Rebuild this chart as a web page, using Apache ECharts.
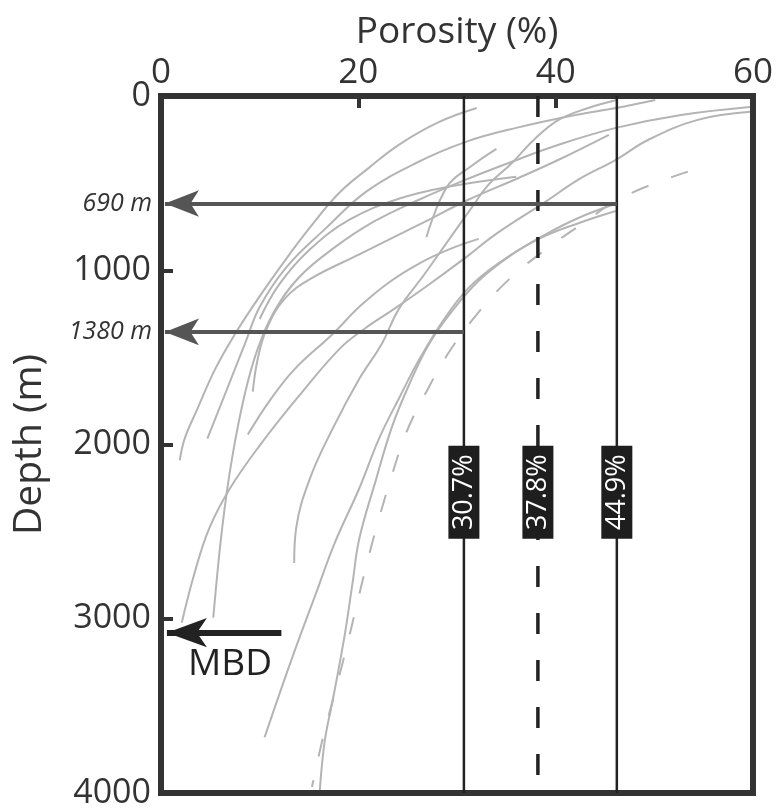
<!DOCTYPE html>
<html>
<head>
<meta charset="utf-8">
<script src="https://cdn.jsdelivr.net/npm/echarts@6/dist/echarts.min.js"></script>
<style>
html,body{margin:0;padding:0;background:#fff;}
#chart{width:776px;height:810px;}
</style>
</head>
<body>
<div id="chart"></div>
<script>
// ---- data (porosity %, depth m) ----
const porosityTicks = [0, 20, 40, 60];
const depthTicks = [0, 1000, 2000, 3000, 4000];

const curve1 = [[32.0,69],[28.2,149],[24.1,280],[21.1,411],[18.1,554],[15.1,754],[12.5,949],[9.8,1166],[7.5,1366],[5.5,1566],[3.7,1794],[2.4,1966],[1.9,2091]];
const curve2 = [[50.1,23],[46.1,69],[42.0,109],[36.0,183],[30.9,263],[25.9,383],[20.8,549],[16.8,754],[12.7,983],[10.0,1211],[8.5,1423],[6.5,1709],[4.7,1966]];
const curve3 = [[59.7,63],[52.7,109],[46.1,183],[40.3,280],[35.3,383],[30.9,480],[26.2,594],[21.6,720],[17.6,869],[14.0,1040],[11.5,1234],[9.8,1451],[8.5,1709],[7.2,2080],[6.2,2480],[5.3,2994]];
const curve4 = [[59.7,91],[54.4,137],[49.4,251],[46.1,366],[42.3,480],[39.0,606],[33.9,794],[30.9,926],[27.2,1080],[23.6,1223],[20.6,1337],[18.1,1451],[14.0,1720],[10.0,2006],[7.0,2251],[4.9,2480],[3.4,2737],[2.1,3023]];
const curve5 = [[46.2,23],[43.3,69],[40.3,137],[37.8,251],[35.6,383],[33.2,509],[31.5,640],[29.2,823],[26.7,1023],[24.1,1223],[22.4,1420],[20.1,1623],[17.4,1909],[15.1,2194],[13.7,2480],[13.5,2680]];
const curve6 = [[45.4,223],[40.3,366],[36.3,469],[31.2,594],[26.2,737],[20.1,909],[15.1,1051],[12.5,1166],[10.7,1337],[9.8,1509],[9.3,1697]];
const curve7 = [[32.2,820],[29.2,880],[26.2,960],[23.1,1070],[20.1,1210],[17.4,1366],[13.5,1570],[11.0,1750],[8.8,1943]];
const curve8 = [[46.0,620],[42.3,700],[38.8,800],[35.3,920],[32.2,1060],[29.7,1220],[27.2,1420],[25.2,1650],[23.4,1900],[21.8,2200],[20.1,2540],[19.4,2800],[18.6,3100],[17.4,3469],[16.6,3700],[16.1,3983]];
const curve9 = [[46.1,660],[42.3,730],[38.3,820],[34.2,960],[31.2,1100],[28.7,1280],[26.2,1509],[24.1,1737],[22.1,1966],[20.1,2251],[17.6,2566],[15.8,2840],[13.3,3223],[10.5,3680]];
const curve10 = [[36.0,463],[29.2,520],[24.1,590],[19.1,710],[15.1,880],[12.0,1080],[10.0,1280]];
const curve11 = [[34.0,303],[31.5,400],[29.0,520],[26.9,811]];
const dashedCurve = [[53.4,434],[46.9,577],[42.6,737],[39.0,880],[35.3,1051],[32.2,1240],[29.2,1469],[26.9,1697],[24.9,1926],[23.4,2177],[22.1,2423],[20.8,2697],[19.7,2954],[18.6,3211],[17.4,3469],[16.3,3709],[15.3,3966]];

const cutoffPorosity = [30.7, 38.2, 46.2];
const cutoffLabels = ['30.7%', '37.8%', '44.9%'];
const cutoffLabelDepth = 2274;

const arrowDepths = [617, 1354];
const arrowLabels = ['690 m', '1380 m'];
const arrowStartPorosity = [46.2, 30.7];
const mbdDepth = 3080;
const mbdStartPorosity = 12.2;
const mbdLabel = 'MBD';
const mbdLabelPos = [7.0, 3265];

// ---- chart ----
const FONT = '"Open Sans", "Noto Sans", sans-serif';
const TEXT = '#333';
const chart = echarts.init(document.getElementById('chart'), null, {renderer: 'canvas'});

const grayCurves = [curve1, curve2, curve3, curve4, curve5, curve6, curve7, curve8, curve9, curve10, curve11];
const series = [];
grayCurves.forEach(function (c) {
  series.push({
    type: 'line', data: c, smooth: 0.4, showSymbol: false, symbol: 'none',
    lineStyle: {color: '#b4b4b4', width: 2}, silent: true, z: 2
  });
});
series.push({
  type: 'line', data: dashedCurve, smooth: 0.4, showSymbol: false, symbol: 'none',
  lineStyle: {color: '#b4b4b4', width: 2, type: [18, 24]}, silent: true, z: 2
});

// vertical cutoff lines
cutoffPorosity.forEach(function (p, i) {
  series.push({
    type: 'line', data: [[p, depthTicks[0]], [p, depthTicks[depthTicks.length - 1]]],
    showSymbol: false, symbol: 'none', silent: true, z: 3,
    lineStyle: i === 1 ? {color: '#222', width: 3.5, type: [21, 26]} : {color: '#222', width: 2.5}
  });
});

// label boxes
series.push({
  type: 'scatter', z: 6, silent: true, clip: false,
  data: cutoffPorosity.map(function (p, i) { return {value: [p, cutoffLabelDepth], name: cutoffLabels[i]}; }),
  symbol: 'rect', symbolSize: [31, 93],
  itemStyle: {color: '#1e1e1e', opacity: 1},
  label: {show: true, position: 'inside', rotate: 90, formatter: '{b}', color: '#ffffff', opacity: 1, fontSize: 27, fontFamily: FONT}
});

// arrows
const arrowLines = arrowDepths.map(function (d, i) {
  return [{coord: [arrowStartPorosity[i], d], symbol: 'none'}, {coord: [0.4, d], symbol: 'arrow', symbolSize: [20, 34]}];
});
arrowLines.push([{coord: [mbdStartPorosity, mbdDepth], symbol: 'none'}, {coord: [0.6, mbdDepth], symbol: 'arrow', symbolSize: [22, 40]}]);
series.push({
  type: 'line', data: [], z: 5, silent: true,
  markLine: {
    silent: true, animation: false,
    label: {show: false},
    data: arrowLines.map(function (l, i) {
      const st = i < 2 ? {color: '#555', width: 4, type: 'solid'} : {color: '#222', width: 6, type: 'solid'};
      l[0].lineStyle = st; l[1].lineStyle = st;
      l[0].itemStyle = {color: st.color}; l[1].itemStyle = {color: st.color};
      return l;
    })
  }
});

// arrow depth labels (left of axis)
series.push({
  type: 'scatter', z: 6, silent: true, clip: false,
  data: arrowDepths.map(function (d, i) { return {value: [0, d], name: arrowLabels[i]}; }),
  symbolSize: 0,
  itemStyle: {opacity: 1},
  label: {show: true, position: 'left', distance: 9, formatter: '{b}', color: TEXT, fontSize: 25, fontStyle: 'italic', fontFamily: FONT}
});
// MBD label
series.push({
  type: 'scatter', z: 6, silent: true, clip: false,
  data: [{value: mbdLabelPos, name: mbdLabel}],
  symbolSize: 0,
  itemStyle: {opacity: 1},
  label: {show: true, position: 'inside', formatter: '{b}', color: '#222', fontSize: 37, fontFamily: FONT}
});

chart.setOption({
  animation: false,
  backgroundColor: '#fff',
  grid: {left: 161, right: 21, top: 96, bottom: 14, show: true, borderColor: '#333', borderWidth: 6, backgroundColor: 'transparent'},
  xAxis: {
    type: 'value', position: 'top',
    min: porosityTicks[0], max: porosityTicks[porosityTicks.length - 1], interval: porosityTicks[1] - porosityTicks[0],
    name: 'Porosity (%)', nameLocation: 'middle', nameGap: 40,
    nameTextStyle: {fontSize: 37, color: TEXT, fontFamily: FONT},
    axisLine: {show: true, lineStyle: {color: '#333', width: 6}},
    axisTick: {show: true, inside: true, length: 12, lineStyle: {color: '#333', width: 4}},
    axisLabel: {fontSize: 35, color: TEXT, fontFamily: FONT, margin: 5, formatter: function (v) { return String(v); }},
    splitLine: {show: false}
  },
  yAxis: {
    type: 'value', inverse: true,
    min: depthTicks[0], max: depthTicks[depthTicks.length - 1], interval: depthTicks[1] - depthTicks[0],
    name: 'Depth (m)', nameLocation: 'middle', nameGap: 112,
    nameTextStyle: {fontSize: 39, color: TEXT, fontFamily: FONT},
    axisLine: {show: true, lineStyle: {color: '#333', width: 6}},
    axisTick: {show: true, inside: true, length: 12, lineStyle: {color: '#333', width: 4}},
    axisLabel: {fontSize: 34, color: TEXT, fontFamily: FONT, margin: 10, formatter: function (v) { return String(v); }},
    splitLine: {show: false}
  },
  series: series
});
</script>
</body>
</html>
